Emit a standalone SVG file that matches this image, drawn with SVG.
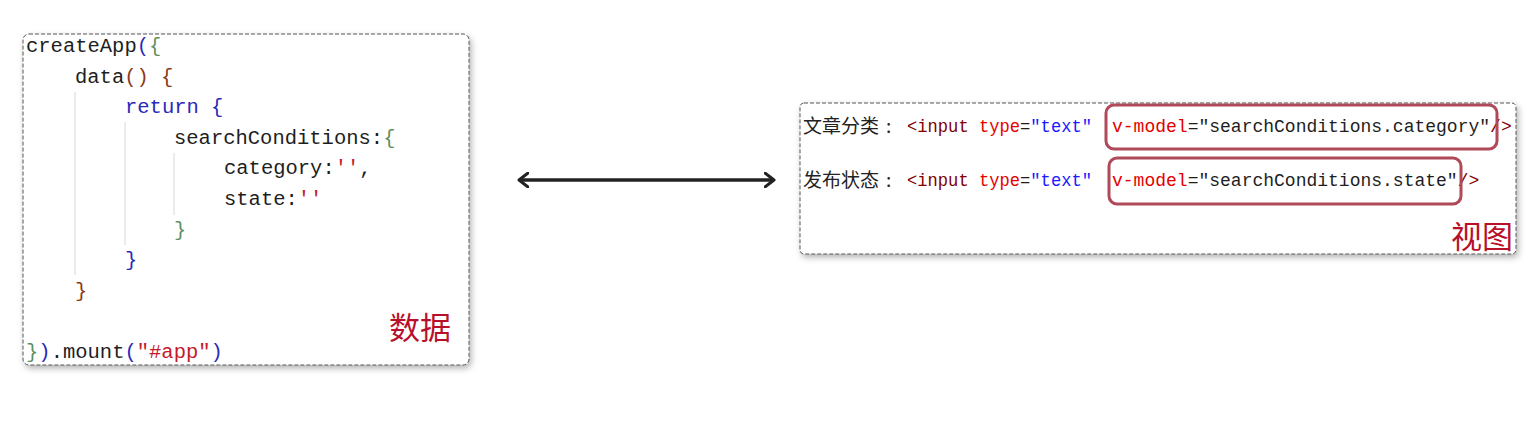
<svg xmlns="http://www.w3.org/2000/svg" width="1534" height="429" viewBox="0 0 1534 429">
<defs>
<filter id="sh" x="-5%" y="-5%" width="110%" height="115%">
<feDropShadow dx="2" dy="3" stdDeviation="3" flood-color="#000" flood-opacity="0.3"/>
</filter>
<marker id="ah" viewBox="0 0 12 16" refX="10" refY="8" markerWidth="12" markerHeight="16" markerUnits="userSpaceOnUse" orient="auto-start-reverse">
<path d="M1,1 L10,8 L1,15" fill="none" stroke="#222" stroke-width="3" stroke-linecap="round" stroke-linejoin="round"/>
</marker>
</defs>
<style>
.box{fill:#fff;stroke:#555;stroke-width:1;stroke-dasharray:4 2}
.code{font-family:"Liberation Mono","DejaVu Sans Mono",monospace;font-size:20.5px;fill:#1e1e1e;white-space:pre}
.v{font-family:"Liberation Mono","DejaVu Sans Mono","Noto Sans CJK SC",monospace;font-size:18px;fill:#1e1e1e;white-space:pre}
.cjk{font-family:"Noto Sans CJK SC",sans-serif;font-size:19px;fill:#222}
.lbl{font-family:"Noto Sans CJK SC",sans-serif;font-size:31px;fill:#b8102a}
.guide{stroke:#d8d8d8;stroke-width:1}
.b{fill:#2a2ab8}.g{fill:#5f8f5f}.br{fill:#8b3a1a}.r{fill:#c41a2a}
.tag{fill:#800000}.at{fill:#e50000}.str{fill:#1a1aff}
.hl{fill:none;stroke:#b04a5a;stroke-width:3}
</style>
<g id="data-node">
<rect class="box" x="23" y="34" width="446" height="331" rx="6" filter="url(#sh)"/>
<line class="guide" x1="75" y1="92" x2="75" y2="275"/>
<line class="guide" x1="125" y1="122" x2="125" y2="245"/>
<line class="guide" x1="174" y1="153" x2="174" y2="215"/>
<text class="code" x="26" y="52">createApp<tspan class="b">(</tspan><tspan class="g">{</tspan></text>
<text class="code" x="75" y="82.6">data<tspan class="br">() {</tspan></text>
<text class="code" x="125" y="113.2"><tspan class="b">return {</tspan></text>
<text class="code" x="174" y="143.8">searchConditions:<tspan class="g">{</tspan></text>
<text class="code" x="224" y="174.4">category:<tspan class="r">''</tspan>,</text>
<text class="code" x="224" y="205">state:<tspan class="r">''</tspan></text>
<text class="code" x="174" y="235.6"><tspan class="g">}</tspan></text>
<text class="code" x="125" y="266.2"><tspan class="b">}</tspan></text>
<text class="code" x="75" y="296.8"><tspan class="br">}</tspan></text>
<text class="code" x="26" y="358"><tspan class="g">}</tspan><tspan class="b">)</tspan>.mount<tspan class="b">(</tspan><tspan class="r">"#app"</tspan><tspan class="b">)</tspan></text>
<text class="lbl" x="389" y="339">数据</text>
</g>
<g id="view-node">
<rect class="box" x="800" y="103" width="716" height="151" rx="4" filter="url(#sh)"/>
<text class="cjk" x="803" y="133">文章分类<tspan x="886">:</tspan></text>
<text class="v" x="907" y="132" textLength="185" lengthAdjust="spacingAndGlyphs"><tspan class="tag">&lt;input</tspan> <tspan class="at">type</tspan>=<tspan class="str">"text"</tspan></text>
<text class="v" x="1112" y="132"><tspan class="at">v-model</tspan>="searchConditions.category"<tspan class="tag">/&gt;</tspan></text>
<text class="cjk" x="803" y="187">发布状态<tspan x="886">:</tspan></text>
<text class="v" x="907" y="186" textLength="185" lengthAdjust="spacingAndGlyphs"><tspan class="tag">&lt;input</tspan> <tspan class="at">type</tspan>=<tspan class="str">"text"</tspan></text>
<text class="v" x="1112" y="186"><tspan class="at">v-model</tspan>="searchConditions.state"<tspan class="tag">/&gt;</tspan></text>
<rect class="hl" x="1106" y="105" width="391" height="44" rx="8"/>
<rect class="hl" x="1109" y="158" width="352" height="46" rx="8"/>
<text class="lbl" x="1451" y="248">视图</text>
</g>
<g id="connectors">
<line x1="519" y1="180" x2="774" y2="180" stroke="#222" stroke-width="3.5" marker-start="url(#ah)" marker-end="url(#ah)"/>
</g>
</svg>
